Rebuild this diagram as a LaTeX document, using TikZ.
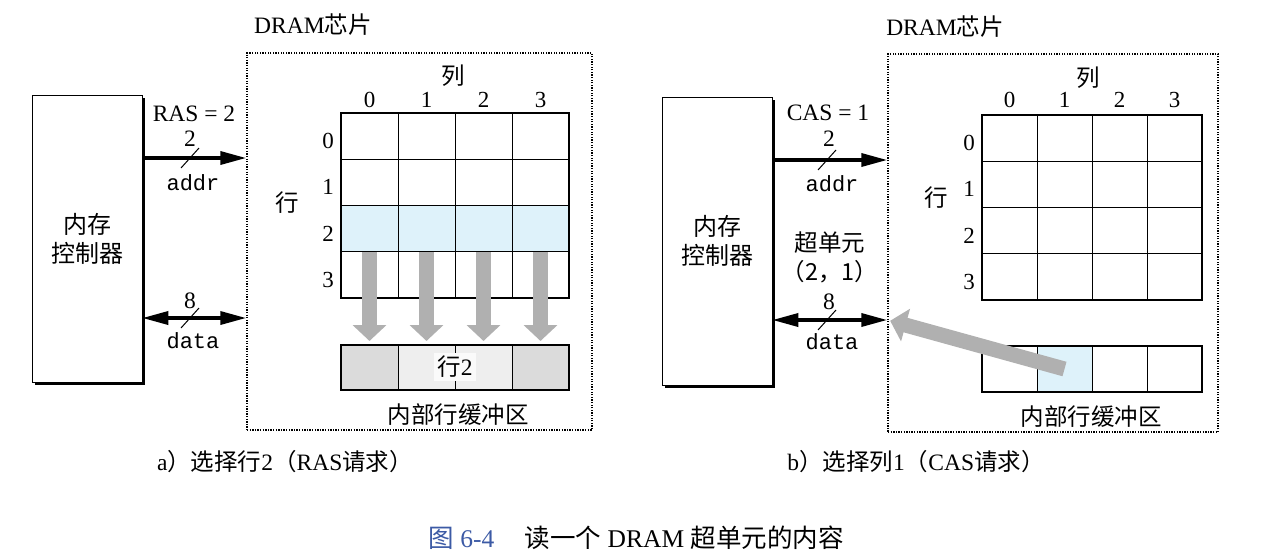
\documentclass[tikz,border=0pt]{standalone}
\usepackage{fontspec}
\setmainfont{Liberation Serif}
\setmonofont{Liberation Mono}
\newfontfamily\cjk{Noto Sans CJK SC}
\usetikzlibrary{arrows.meta,shadows}
\definecolor{rowblue}{RGB}{222,242,250}
\definecolor{capblue}{RGB}{60,90,165}
\tikzset{
  lbl/.style={font=\fontsize{23.5}{27}\selectfont, inner sep=0pt},
  num/.style={font=\fontsize{23}{26}\selectfont, inner sep=0pt},
  mono/.style={font=\fontsize{22}{25}\selectfont\ttfamily, inner sep=0pt},
  ctrlbox/.style={draw=black, line width=0.6pt, fill=white, minimum width=110pt,
    minimum height=287pt, inner sep=0pt, align=center,
    font=\fontsize{24}{29}\selectfont\cjk,
    drop shadow={shadow xshift=3pt, shadow yshift=-3pt, opacity=1, fill=black}},
  chip/.style={draw=black, line width=1.5pt, dash pattern=on 1.3pt off 1.3pt, inner sep=0pt},
  cellA/.style={draw=black, line width=0.7pt, fill=white, minimum width=57pt,
    minimum height=46.25pt, inner sep=0pt, outer sep=0pt},
  cellB/.style={cellA, minimum width=55pt},
  frame/.style={draw=black, line width=2.2pt},
  bus/.style={line width=3.5pt},
  onetip/.style={bus, -{Triangle[length=26pt,width=13pt]}},
  twotip/.style={bus, {Triangle[length=26pt,width=13pt]}-{Triangle[length=26pt,width=13pt]}},
  slash/.style={line width=1pt},
  bigarrow/.style={draw=gray!62, line width=15pt, -{Triangle[length=16pt,width=33pt]}},
}
\begin{document}
\begin{tikzpicture}[x=1pt,y=-1pt]
\useasboundingbox (0,0) rectangle (1268,558);

% ================= panel a =================
\node[ctrlbox] (ctrlA) at (87,238.5) {内存\\控制器};
\node[chip, minimum width=345pt, minimum height=377pt] (dramA) at (419.5,241.5) {};
\node[lbl] (titleA) at (313,25) {DRAM{\cjk 芯片}};
\node[lbl] (colhA) at (453,76) {\cjk 列};
\node[lbl] (rowhA) at (287,203) {\cjk 行};

\foreach \r in {0,1,3}
  \foreach \c in {0,...,3}
    \node[cellA] (A-\r-\c) at ({369.5+57*\c},{136.125+46.25*\r}) {};
\foreach \c in {0,...,3}
  \node[cellA, fill=rowblue] (A-2-\c) at ({369.5+57*\c},{228.625}) {};
\draw[frame] (A-0-0.north west) rectangle (A-3-3.south east);

\foreach \c in {0,...,3}
  \node[num] (colA-\c) at ({369.5+57*\c},100) {\c};
\foreach \r in {0,...,3}
  \node[num] (rowA-\r) at (328,{141+46.25*\r}) {\r};

\node[cellA, minimum height=45pt, fill=gray!28] (BA-0) at (369.5,367.5) {};
\node[cellA, minimum height=45pt, fill=gray!13] (BA-1) at (426.5,367.5) {};
\node[cellA, minimum height=45pt, fill=gray!13] (BA-2) at (483.5,367.5) {};
\node[cellA, minimum height=45pt, fill=gray!28] (BA-3) at (540.5,367.5) {};
\draw[frame] (BA-0.north west) rectangle (BA-3.south east);
\node[lbl, fill=gray!4, inner sep=3pt] (bufA) at (455,367) {{\cjk 行}2};
\node[lbl] (buflA) at (458,415) {\cjk 内部行缓冲区};

\foreach \c in {0,...,3}
  \draw[bigarrow, shorten >=4pt] (A-2-\c.south) -- (BA-\c.north);

\coordinate (addrAy) at (0,158);
\coordinate (dataAy) at (0,318);
\draw[onetip] (ctrlA.east |- addrAy) -- (dramA.west |- addrAy);
\draw[twotip] (ctrlA.east |- dataAy) -- (dramA.west |- dataAy);
\draw[slash] (181,168) -- (199,148);
\draw[slash] (181,328) -- (199,308);
\node[lbl] (rasA) at (194,114) {RAS = 2};
\node[lbl] (twoA) at (190,139) {2};
\node[mono] (addrA) at (193,183) {addr};
\node[lbl] (eightA) at (190,301) {8};
\node[mono] (dataA) at (193,341) {data};

\node[lbl] (capA) at (285,462) {a{\cjk ）选择行}2{\cjk （}RAS{\cjk 请求）}};

% ================= panel b =================
\node[ctrlbox, minimum height=288pt] (ctrlB) at (717,241) {内存\\控制器};
\node[chip, minimum width=330pt, minimum height=378pt] (dramB) at (1053,243) {};
\node[lbl] (titleB) at (945,27) {DRAM{\cjk 芯片}};
\node[lbl] (colhB) at (1088,78) {\cjk 列};
\node[lbl] (rowhB) at (936,198) {\cjk 行};

\foreach \r in {0,...,3}
  \foreach \c in {0,...,3}
    \node[cellB] (B-\r-\c) at ({1009.5+55*\c},{138.125+46.25*\r}) {};
\draw[frame] (B-0-0.north west) rectangle (B-3-3.south east);

\foreach \c in {0,...,3}
  \node[num] (colB-\c) at ({1009.5+55*\c},100) {\c};
\foreach \r in {0,...,3}
  \node[num] (rowB-\r) at (969,{143+46.25*\r}) {\r};

\node[cellB, minimum height=46pt] (BB-0) at (1009.5,369) {};
\node[cellB, minimum height=46pt, fill=rowblue] (BB-1) at (1064.5,369) {};
\node[cellB, minimum height=46pt] (BB-2) at (1119.5,369) {};
\node[cellB, minimum height=46pt] (BB-3) at (1174.5,369) {};
\draw[frame] (BB-0.north west) rectangle (BB-3.south east);
\node[lbl] (buflB) at (1091,417) {\cjk 内部行缓冲区};

\coordinate (addrBy) at (0,160);
\coordinate (dataBy) at (0,320);
\draw[onetip] (ctrlB.east |- addrBy) -- (dramB.west |- addrBy);
\draw[twotip] (ctrlB.east |- dataBy) -- (dramB.west |- dataBy);
\draw[slash] (818,170) -- (836,150);
\draw[slash] (818,330) -- (836,310);
\node[lbl] (casB) at (828,113) {CAS = 1};
\node[lbl] (twoB) at (829,139) {2};
\node[mono] (addrB) at (832,184) {addr};
\node[lbl] (superB) at (830,243) {\cjk 超单元};
\node[lbl] (coordB) at (830,272) {\cjk （2，1）};
\node[lbl] (eightB) at (829,302) {8};
\node[mono] (dataB) at (832,342) {data};

\draw[bigarrow, shorten >=3pt] (BB-1.center) -- (dramB.west |- dataBy);

\node[lbl] (capB) at (916,462) {b{\cjk ）选择列}1{\cjk （}CAS{\cjk 请求）}};

% ================= caption =================
\node[font=\fontsize{25.5}{29}\selectfont, inner sep=0pt] (fig) at (636,538)
  {\textcolor{capblue}{{\cjk 图} 6-4}\hspace{1.2em}{\cjk 读一个} DRAM {\cjk 超单元的内容}};
\end{tikzpicture}
\end{document}
